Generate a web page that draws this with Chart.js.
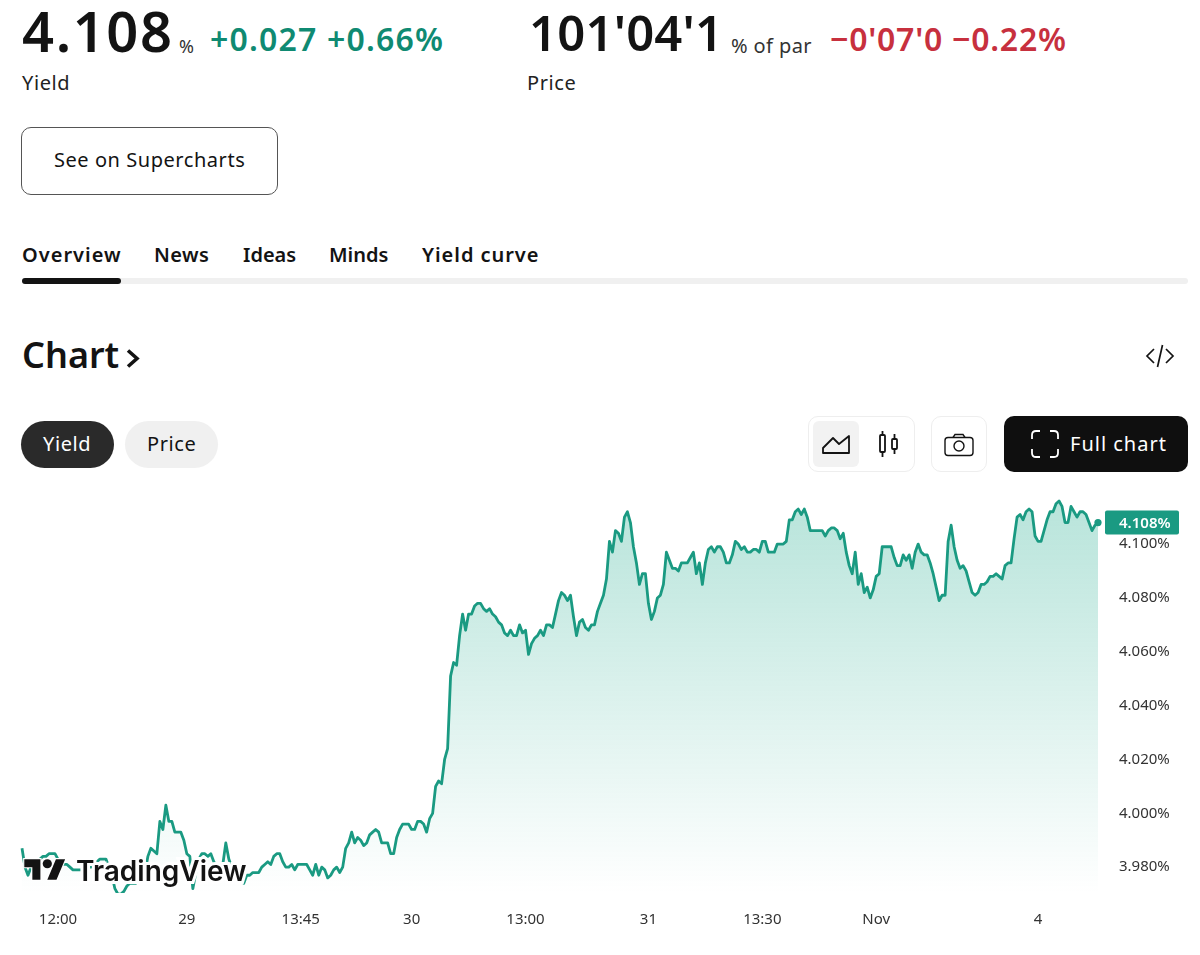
<!DOCTYPE html>
<html>
<head>
<meta charset="utf-8">
<title>Yield</title>
<script src="https://cdn.jsdelivr.net/npm/chart.js@4"></script>
<style>
html, body { margin: 0; padding: 0; background: #fff; }
body { width: 1200px; height: 955px; position: relative; overflow: hidden; font-family: "Noto Sans", sans-serif; color: #131313; }
.t { position: absolute; white-space: nowrap; line-height: 1; }
.tab { top: 245px; font-size: 20px; font-weight: 600; }
.box { position: absolute; box-sizing: border-box; }
svg { position: absolute; overflow: visible; }
#chart-wrap { position: absolute; left: 0; top: 490px; width: 1200px; height: 450px; }
#logo-text { left: 76px; top: 854px; font: 600 28px Inter, sans-serif; color: #131313; -webkit-text-stroke: 6px #fff; paint-order: stroke fill; }
</style>
</head>
<body>
<div class="t" style="left:22px;top:2px;font-size:56px;font-weight:600;letter-spacing:1.6px">4.108</div>
<div class="t" style="left:179px;top:37px;font-size:18px;color:#333">%</div>
<div class="t" style="left:210px;top:23px;font-size:32px;font-weight:600;letter-spacing:1.2px;color:#0f8a72">+0.027 +0.66%</div>
<div class="t" style="left:22px;top:73px;font-size:20px;letter-spacing:0.6px;color:#222">Yield</div>

<div class="t" style="left:529px;top:8px;font-size:49px;font-weight:600;letter-spacing:0.2px">101'04'1</div>
<div class="t" style="left:731px;top:36px;font-size:20px;letter-spacing:0.4px;color:#333">% of par</div>
<div class="t" style="left:830px;top:23px;font-size:32px;font-weight:600;letter-spacing:0.75px;color:#c7303e">−0'07'0 −0.22%</div>
<div class="t" style="left:527px;top:73px;font-size:20px;letter-spacing:0.6px;color:#222">Price</div>

<div class="box" style="left:21px;top:127px;width:257px;height:68px;border:1px solid #555;border-radius:10px"></div>
<div class="t" style="left:54px;top:150px;font-size:20px;letter-spacing:0.55px">See on Supercharts</div>

<div class="t tab" style="left:22px;letter-spacing:1px">Overview</div>
<div class="t tab" style="left:154px;letter-spacing:0.4px">News</div>
<div class="t tab" style="left:243px">Ideas</div>
<div class="t tab" style="left:329px">Minds</div>
<div class="t tab" style="left:422px;letter-spacing:0.95px">Yield curve</div>
<div class="box" style="left:22px;top:278px;width:1166px;height:6px;background:#f0f0f0;border-radius:3px"></div>
<div class="box" style="left:22px;top:278px;width:99px;height:6px;background:#131313;border-radius:3px"></div>

<div class="t" style="left:22px;top:337px;font-size:36px;font-weight:600">Chart</div>
<svg style="left:127px;top:349px" width="13" height="20" fill="none" stroke="#131313" stroke-width="3.6"><path d="M1 1.5 L10 9.5 L1 17.5"/></svg>
<svg style="left:1146px;top:344px" width="28" height="24" fill="none" stroke="#131313" stroke-width="1.7"><path d="M8 5 L1 12 L8 19 M20 5 L27 12 L20 19 M16.5 1 L11.5 23"/></svg>

<div class="box" style="left:21px;top:421px;width:93px;height:47px;background:#2a2a2a;border-radius:24px"></div>
<div class="t" style="left:43px;top:434px;font-size:20px;letter-spacing:0.6px;color:#fff">Yield</div>
<div class="box" style="left:125px;top:421px;width:93px;height:47px;background:#f0f0f0;border-radius:24px"></div>
<div class="t" style="left:147px;top:434px;font-size:20px;letter-spacing:0.6px">Price</div>

<div class="box" style="left:808px;top:416px;width:107px;height:56px;border:1px solid #eee;border-radius:10px"></div>
<div class="box" style="left:813px;top:421px;width:46px;height:46px;background:#f2f2f2;border-radius:6px"></div>
<svg style="left:822px;top:435px" width="28" height="19" fill="none" stroke="#131313" stroke-width="1.8"><path d="M1 18 V13 L11 3 L17 9 L27 1 V18 Z" stroke-linejoin="round"/></svg>
<svg style="left:879px;top:430px" width="20" height="28" fill="none" stroke="#131313" stroke-width="1.8"><rect x="1" y="5" width="5" height="17" rx="1"/><path d="M3.5 1 V5 M3.5 22 V27"/><rect x="13" y="9" width="5" height="10" rx="1"/><path d="M15.5 4 V9 M15.5 19 V24"/></svg>
<div class="box" style="left:931px;top:416px;width:56px;height:56px;border:1px solid #eee;border-radius:10px"></div>
<svg style="left:944px;top:433px" width="30" height="24" fill="none" stroke="#131313" stroke-width="1.4"><rect x="1" y="4.5" width="28" height="18" rx="3"/><path d="M9 4.5 L11 1.5 H19 L21 4.5"/><circle cx="15" cy="13" r="5"/></svg>
<div class="box" style="left:1004px;top:416px;width:184px;height:56px;background:#0f0f0f;border-radius:10px"></div>
<svg style="left:1031px;top:430px" width="28" height="28" fill="none" stroke="#fff" stroke-width="1.8"><path d="M9 1 H5 Q1 1 1 5 V9 M19 1 H23 Q27 1 27 5 V9 M9 27 H5 Q1 27 1 23 V19 M19 27 H23 Q27 27 27 23 V19"/></svg>
<div class="t" style="left:1070px;top:434px;font-size:20px;letter-spacing:1px;color:#fff">Full chart</div>

<div id="chart-wrap"><canvas id="yield-chart"></canvas></div>

<svg style="left:24px;top:858px" width="42" height="23" viewBox="0 0 36 20"><g fill="#131313" stroke="#fff" stroke-width="2" paint-order="stroke fill"><path d="M14 19H7V8H0V1h14v18zM28 19h-8l7.5-18h8L28 19z"/><circle cx="20" cy="5" r="4"/></g></svg>
<div class="t" id="logo-text">TradingView</div>

<script>
"use strict";

const yields = [
    3.987, 3.980, 3.977, 3.980, 3.981, 3.982, 3.983, 3.984, 3.984, 3.985,
    3.985, 3.985, 3.983, 3.982, 3.981, 3.981, 3.980, 3.979, 3.979, 3.979,
    3.979, 3.979, 3.980, 3.980, 3.981, 3.982, 3.983, 3.983, 3.983, 3.980,
    3.977, 3.972, 3.970, 3.970, 3.971, 3.973, 3.974, 3.974, 3.974, 3.975,
    3.976, 3.978, 3.984, 3.987, 3.986, 3.985, 3.997, 3.994, 4.003, 3.997,
    3.997, 3.993, 3.993, 3.993, 3.990, 3.985, 3.984, 3.972, 3.978, 3.983,
    3.985, 3.985, 3.984, 3.985, 3.982, 3.980, 3.978, 3.981, 3.989, 3.983,
    3.980, 3.979, 3.977, 3.975, 3.974, 3.977, 3.977, 3.978, 3.978, 3.978,
    3.980, 3.981, 3.982, 3.981, 3.984, 3.985, 3.985, 3.982, 3.980, 3.980,
    3.981, 3.979, 3.981, 3.981, 3.981, 3.981, 3.979, 3.977, 3.981, 3.977,
    3.980, 3.979, 3.976, 3.977, 3.979, 3.980, 3.978, 3.980, 3.987, 3.989,
    3.993, 3.989, 3.991, 3.990, 3.988, 3.989, 3.992, 3.993, 3.994, 3.993,
    3.989, 3.989, 3.989, 3.985, 3.985, 3.991, 3.994, 3.996, 3.996, 3.996,
    3.994, 3.994, 3.997, 3.997, 3.996, 3.993, 3.998, 4.000, 4.010, 4.012,
    4.011, 4.020, 4.024, 4.051, 4.056, 4.055, 4.066, 4.074, 4.068, 4.074,
    4.074, 4.077, 4.078, 4.078, 4.076, 4.075, 4.076, 4.074, 4.073, 4.071,
    4.070, 4.067, 4.066, 4.068, 4.066, 4.066, 4.070, 4.067, 4.068, 4.059,
    4.063, 4.065, 4.066, 4.068, 4.066, 4.070, 4.070, 4.069, 4.074, 4.079,
    4.082, 4.081, 4.079, 4.081, 4.073, 4.066, 4.071, 4.072, 4.069, 4.068,
    4.070, 4.070, 4.075, 4.078, 4.081, 4.087, 4.101, 4.097, 4.105, 4.104,
    4.101, 4.110, 4.112, 4.108, 4.099, 4.093, 4.085, 4.089, 4.089, 4.078,
    4.072, 4.075, 4.080, 4.081, 4.085, 4.097, 4.094, 4.091, 4.091, 4.090,
    4.093, 4.093, 4.093, 4.095, 4.097, 4.089, 4.093, 4.085, 4.093, 4.098,
    4.099, 4.097, 4.099, 4.099, 4.097, 4.093, 4.093, 4.096, 4.101, 4.100,
    4.098, 4.099, 4.097, 4.097, 4.098, 4.098, 4.097, 4.101, 4.101, 4.097,
    4.097, 4.097, 4.100, 4.100, 4.100, 4.101, 4.109, 4.109, 4.112, 4.113,
    4.111, 4.113, 4.110, 4.105, 4.105, 4.105, 4.105, 4.105, 4.103, 4.105,
    4.106, 4.106, 4.105, 4.102, 4.104, 4.097, 4.092, 4.089, 4.097, 4.085,
    4.089, 4.082, 4.084, 4.080, 4.083, 4.088, 4.089, 4.099, 4.099, 4.099,
    4.099, 4.095, 4.092, 4.092, 4.096, 4.094, 4.096, 4.091, 4.097, 4.100,
    4.097, 4.096, 4.096, 4.093, 4.089, 4.084, 4.079, 4.081, 4.081, 4.101,
    4.107, 4.099, 4.094, 4.091, 4.092, 4.090, 4.086, 4.082, 4.081, 4.082,
    4.085, 4.085, 4.086, 4.088, 4.088, 4.089, 4.088, 4.087, 4.092, 4.093,
    4.093, 4.102, 4.110, 4.111, 4.109, 4.112, 4.113, 4.112, 4.103, 4.101,
    4.101, 4.105, 4.109, 4.112, 4.112, 4.115, 4.116, 4.114, 4.108, 4.108,
    4.114, 4.112, 4.110, 4.112, 4.112, 4.111, 4.108, 4.105, 4.107, 4.108
];
const tickIndexes = [12, 55, 93, 130, 168, 209, 247, 285, 339];
const tickLabels = ["12:00", "29", "13:45", "30", "13:00", "31", "13:30", "Nov", "4"];
const yTicks = [3.98, 4.00, 4.02, 4.04, 4.06, 4.08, 4.10];
const lastYield = 4.108;

const lineColor = "#1a9a82";
const tickFont = { family: "'Noto Sans', sans-serif", size: 15 };

function getCategories() {
    return yields.map((value, index) => {
        const tick = tickIndexes.indexOf(index);
        return tick === -1 ? "" : tickLabels[tick];
    });
}

function getGradient(context) {
    const area = context.chart.chartArea;
    if (!area) {
        return "transparent";
    }
    const gradient = context.chart.ctx.createLinearGradient(0, area.top, 0, area.bottom);
    gradient.addColorStop(0, "rgba(30, 170, 140, 0.32)");
    gradient.addColorStop(1, "rgba(30, 170, 140, 0)");
    return gradient;
}

// price tag on the axis, sits on top of the 4.100% label
const lastValueTag = {
    id: "lastValueTag",
    afterDraw(chart) {
        const ctx = chart.ctx;
        const y = chart.scales.y.getPixelForValue(lastYield);
        ctx.save();
        ctx.fillStyle = lineColor;
        ctx.beginPath();
        ctx.roundRect(1105, y - 12, 74, 24, 2);
        ctx.fill();
        ctx.fillStyle = "#fff";
        ctx.font = "600 15px 'Noto Sans', sans-serif";
        ctx.textBaseline = "middle";
        ctx.fillText(lastYield.toFixed(3) + "%", 1119, y + 1);
        ctx.restore();
    }
};

function buildChart() {
    const lastIndex = yields.length - 1;
    new Chart(document.querySelector("#yield-chart").getContext("2d"), {
        type: "line",
        plugins: [lastValueTag],
        data: {
            labels: getCategories(),
            datasets: [{
                data: yields,
                borderColor: lineColor,
                borderWidth: 2.8,
                borderJoinStyle: "round",
                tension: 0,
                fill: "start",
                backgroundColor: getGradient,
                pointRadius: context => context.dataIndex === lastIndex ? 3.6 : 0,
                pointBackgroundColor: lineColor,
                pointBorderWidth: 0
            }]
        },
        options: {
            responsive: true,
            maintainAspectRatio: false,
            animation: false,
            layout: { padding: { left: 22, top: 2, right: 0, bottom: 0 } },
            plugins: { legend: { display: false }, tooltip: { enabled: false } },
            scales: {
                x: {
                    type: "category",
                    offset: false,
                    grid: { display: false, drawTicks: false },
                    border: { display: false },
                    afterFit: scale => {
                        scale.height = 47;
                        scale.paddingLeft = 0;
                        scale.paddingRight = 0;
                    },
                    afterBuildTicks: scale => {
                        scale.ticks = tickIndexes.map(index => ({ value: index }));
                    },
                    ticks: {
                        autoSkip: false,
                        maxRotation: 0,
                        padding: 18,
                        color: "#333",
                        font: tickFont
                    }
                },
                y: {
                    position: "right",
                    min: 3.9704,
                    max: 4.1186,
                    grid: { display: false, drawTicks: false },
                    border: { display: false },
                    afterFit: scale => {
                        scale.width = 102;
                        scale.paddingTop = 0;
                        scale.paddingBottom = 0;
                    },
                    afterBuildTicks: scale => {
                        scale.ticks = yTicks.map(value => ({ value }));
                    },
                    ticks: {
                        padding: 21,
                        color: "#333",
                        font: tickFont,
                        callback: value => value.toFixed(3) + "%"
                    }
                }
            }
        }
    });
}

buildChart();
</script>
</body>
</html>
